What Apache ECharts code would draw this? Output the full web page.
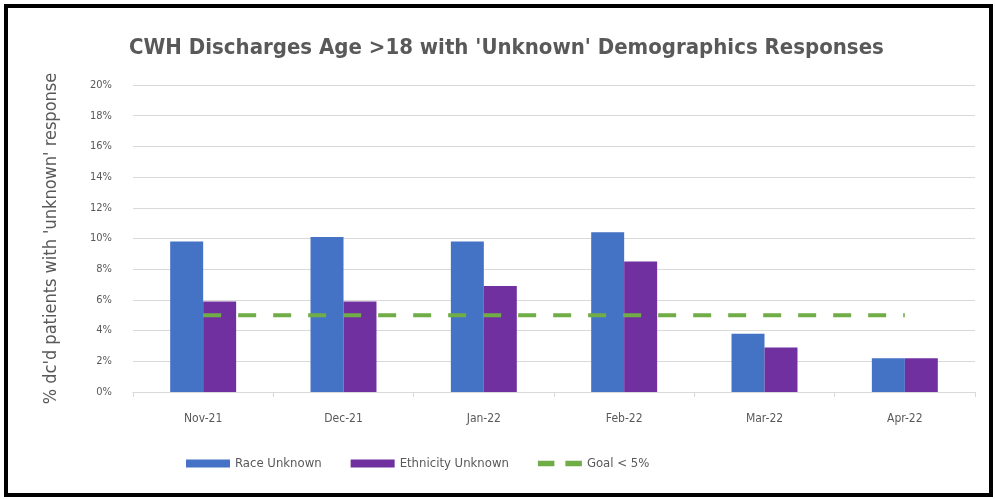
<!DOCTYPE html>
<html>
<head>
<meta charset="utf-8">
<script src="https://cdn.jsdelivr.net/npm/echarts@6/dist/echarts.min.js"></script>
<style>
  html, body { margin: 0; padding: 0; background: #fff; }
  #frame { position: absolute; left: 4px; top: 4px; width: 981px; height: 485px; border: 4px solid #000; background: #fff; }
  #chart { width: 981px; height: 485px; }
</style>
</head>
<body>
<div id="frame"><div id="chart"></div></div>
<script>
const months = ['Nov-21', 'Dec-21', 'Jan-22', 'Feb-22', 'Mar-22', 'Apr-22']
const raceUnknown = [9.8, 10.1, 9.8, 10.4, 3.8, 2.2]
const ethnicityUnknown = [5.9, 5.9, 6.9, 8.5, 2.9, 2.2]
const goal = [5, 5, 5, 5, 5, 5]

const chart = echarts.init(document.getElementById('chart'))

const font = 'Liberation Sans Narrow, DejaVu Sans Condensed, sans-serif'

chart.setOption({
  animation: false,
  textStyle: { fontFamily: font },
  title: {
    text: "CWH Discharges Age >18 with 'Unknown' Demographics Responses",
    left: 116,
    top: 24,
    textStyle: { fontSize: 22, fontWeight: 'bold', color: '#595959', fontFamily: font }
  },
  legend: {
    bottom: 18,
    left: 173,
    itemWidth: 44,
    itemHeight: 8,
    itemGap: 29,
    textStyle: { fontSize: 13, color: '#595959' },
    data: [
      { name: 'Race Unknown', icon: 'rect' },
      { name: 'Ethnicity Unknown', icon: 'rect' },
      {
        name: 'Goal < 5%',
        icon: 'path://M0,0H12V4H0Z M20,0H32V4H20Z',
        itemStyle: { color: '#70ad47' },
        lineStyle: { opacity: 0 }
      }
    ]
  },
  grid: { left: 125, right: 14, top: 77, bottom: 101 },
  xAxis: {
    type: 'category',
    data: months,
    axisLine: { lineStyle: { color: '#d9d9d9' } },
    axisTick: { show: true, length: 5, lineStyle: { color: '#d9d9d9' } },
    axisLabel: { color: '#595959', fontSize: 12, margin: 21 }
  },
  yAxis: {
    type: 'value',
    min: 0,
    max: 20,
    interval: 2,
    name: "% dc'd patients with 'unknown' response",
    nameLocation: 'middle',
    nameGap: 73,
    nameTextStyle: { color: '#595959', fontSize: 18 },
    axisLabel: { formatter: '{value}%', color: '#595959', fontSize: 11, margin: 21 },
    splitLine: { lineStyle: { color: '#d9d9d9' } }
  },
  series: [
    {
      name: 'Race Unknown',
      type: 'bar',
      data: raceUnknown,
      barWidth: '23.5%',
      barGap: '0%',
      itemStyle: { color: '#4472c4' }
    },
    {
      name: 'Ethnicity Unknown',
      type: 'bar',
      data: ethnicityUnknown,
      barWidth: '23.5%',
      itemStyle: { color: '#7030a0' }
    },
    {
      name: 'Goal < 5%',
      type: 'line',
      data: goal,
      symbol: 'none',
      lineStyle: { color: '#70ad47', width: 4, type: [18, 17] },
      itemStyle: { color: '#70ad47' }
    }
  ]
})
</script>
</body>
</html>
